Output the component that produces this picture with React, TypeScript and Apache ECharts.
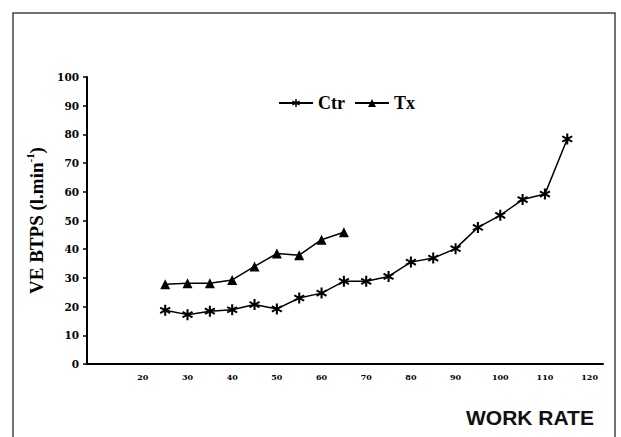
import React, { useEffect, useRef } from "react";
import * as echarts from "echarts";

const workRateCtr = [25, 30, 35, 40, 45, 50, 55, 60, 65, 70, 75, 80, 85, 90, 95, 100, 105, 110, 115];
const ctrValues = [18.7, 17.2, 18.4, 18.9, 20.7, 19.2, 23.0, 24.7, 28.8, 28.8, 30.5, 35.5, 36.9, 40.2, 47.6, 51.8, 57.3, 59.2, 78.4];
const workRateTx = [25, 30, 35, 40, 45, 50, 55, 60, 65];
const txValues = [27.8, 28.1, 28.1, 29.3, 34.0, 38.5, 37.9, 43.3, 45.9];
const xTickLabels = [20, 30, 40, 50, 60, 70, 80, 90, 100, 110, 120];

const asterisk =
  "path://M9.78,6.72 L8.88,8.28 L5.9,6.56 L5.9,10 L4.1,10 L4.1,6.56 L1.12,8.28 L0.22,6.72 L3.2,5 L0.22,3.28 L1.12,1.72 L4.1,3.44 L4.1,0 L5.9,0 L5.9,3.44 L8.88,1.72 L9.78,3.28 L6.8,5 Z";

export default function App() {
  const ref = useRef<HTMLDivElement>(null);
  useEffect(() => {
    document.body.style.margin = "0";
    const chart = echarts.init(ref.current!, null, { renderer: "svg" });
    chart.setOption({
      animation: false,
      backgroundColor: "#fff",
      graphic: [
        {
          type: "rect",
          shape: { x: 13, y: 13, width: 602, height: 440 },
          style: { fill: "none", stroke: "#444", lineWidth: 1.5 },
          silent: true,
        },
      ],
      title: {
        text: "WORK RATE",
        left: 461,
        top: 402,
        textStyle: { fontFamily: "Liberation Sans, Arial", fontWeight: "bold", fontSize: 21, color: "#111" },
      },
      legend: {
        left: 273,
        top: 89,
        itemWidth: 34,
        itemHeight: 10,
        itemGap: 9,
        textStyle: { fontFamily: "Liberation Serif, Times New Roman", fontWeight: "bold", fontSize: 18, color: "#000" },
        data: ["Ctr", "Tx"],
      },
      grid: { left: 87, right: 18, top: 77, bottom: 73 },
      xAxis: {
        type: "value",
        min: 7.5,
        max: 123,
        splitLine: { show: false },
        axisLine: { lineStyle: { color: "#000", width: 2 } },
        axisTick: { show: false },
        axisLabel: {
          customValues: xTickLabels,
          margin: 9,
          fontFamily: "DejaVu Serif",
          fontWeight: "bold",
          fontSize: 8,
          color: "#000",
        },
      },
      yAxis: {
        type: "value",
        min: 0,
        max: 100,
        interval: 10,
        splitLine: { show: false },
        axisLine: { show: true, lineStyle: { color: "#000", width: 2 } },
        axisTick: { show: true, length: 4, lineStyle: { color: "#000", width: 1.5 } },
        axisLabel: {
          margin: 8,
          fontFamily: "DejaVu Serif",
          fontWeight: "bold",
          fontSize: 10.5,
          color: "#000",
        },
        name: "{a|VE BTPS (l.min}{s|-1}{a|)}",
        nameLocation: "middle",
        nameRotate: 90,
        nameGap: 37,
        nameTextStyle: {
          fontSize: 19,
          fontWeight: "bold",
          fontFamily: "Liberation Serif, Times New Roman",
          rich: {
            a: { fontFamily: "Liberation Serif, Times New Roman", fontWeight: "bold", fontSize: 19, color: "#000", lineHeight: 22, verticalAlign: "bottom" },
            s: { fontFamily: "Liberation Serif, Times New Roman", fontWeight: "bold", fontSize: 11, color: "#000", lineHeight: 22, verticalAlign: "top" },
          },
        },
      },
      series: [
        {
          name: "Ctr",
          type: "line",
          data: workRateCtr.map((x, i) => [x, ctrValues[i]]),
          symbol: asterisk,
          symbolSize: 11,
          lineStyle: { color: "#000", width: 1.5 },
          itemStyle: { color: "#000" },
        },
        {
          name: "Tx",
          type: "line",
          data: workRateTx.map((x, i) => [x, txValues[i]]),
          symbol: "triangle",
          symbolSize: 10,
          lineStyle: { color: "#000", width: 1.5 },
          itemStyle: { color: "#000" },
        },
      ],
    });
    return () => chart.dispose();
  }, []);
  return <div ref={ref} style={{ width: 621, height: 437 }} />;
}
